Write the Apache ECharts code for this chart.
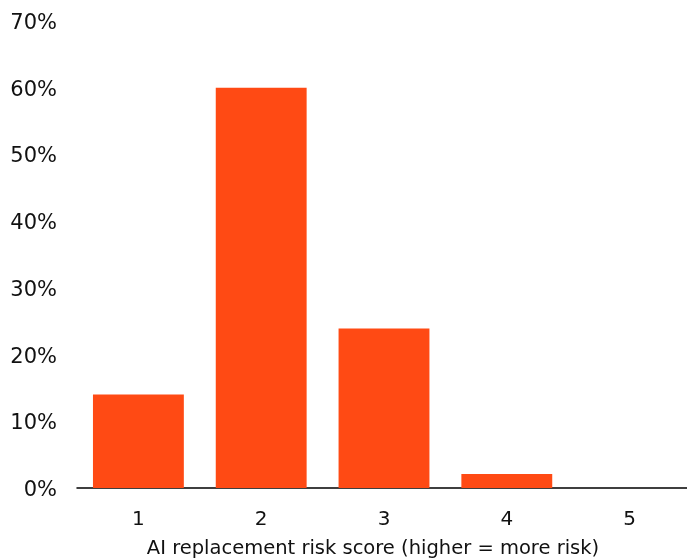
<!DOCTYPE html>
<html>
<head>
<meta charset="utf-8">
<script src="https://cdn.jsdelivr.net/npm/echarts@6/dist/echarts.min.js"></script>
<style>html,body{margin:0;padding:0;background:#fff;}#c{width:687px;height:560px;}</style>
</head>
<body>
<div id="c"></div>
<script>
const categories = ['1', '2', '3', '4', '5'];
const shares = [14, 60, 23.9, 2.1, 0];
const yTicks = { min: 0, max: 70, interval: 10 };
const xTitle = 'AI replacement risk score (higher = more risk)';

const chart = echarts.init(document.getElementById('c'), null, { renderer: 'canvas' });
const font = 'DejaVu Sans';
chart.setOption({
  animation: false,
  backgroundColor: '#ffffff',
  grid: { left: 77, top: 21, bottom: 72, width: 614, containLabel: false, outerBoundsMode: 'none' },
  xAxis: {
    type: 'category',
    data: categories,
    axisLine: { lineStyle: { color: '#000', width: 1.5 } },
    axisTick: { show: false },
    axisLabel: { color: '#111', fontFamily: font, fontSize: 20, margin: 22 },
    name: xTitle,
    nameLocation: 'middle',
    nameGap: 51,
    nameTextStyle: { color: '#111', fontFamily: font, fontSize: 19.5, padding: [0, 22, 0, 0] }
  },
  yAxis: {
    type: 'value',
    min: yTicks.min, max: yTicks.max, interval: yTicks.interval,
    axisLine: { show: false },
    axisTick: { show: false },
    splitLine: { show: false },
    axisLabel: {
      color: '#111', fontFamily: font, fontSize: 21, margin: 20,
      formatter: v => '{v|' + v + '%}',
      rich: { v: { color: '#111', fontFamily: font, fontSize: 21, padding: [5, 0, 0, 0] } }
    }
  },
  series: [{
    type: 'bar',
    data: shares,
    barCategoryGap: '26%',
    itemStyle: { color: '#ff4a14' }
  }]
});
</script>
</body>
</html>
